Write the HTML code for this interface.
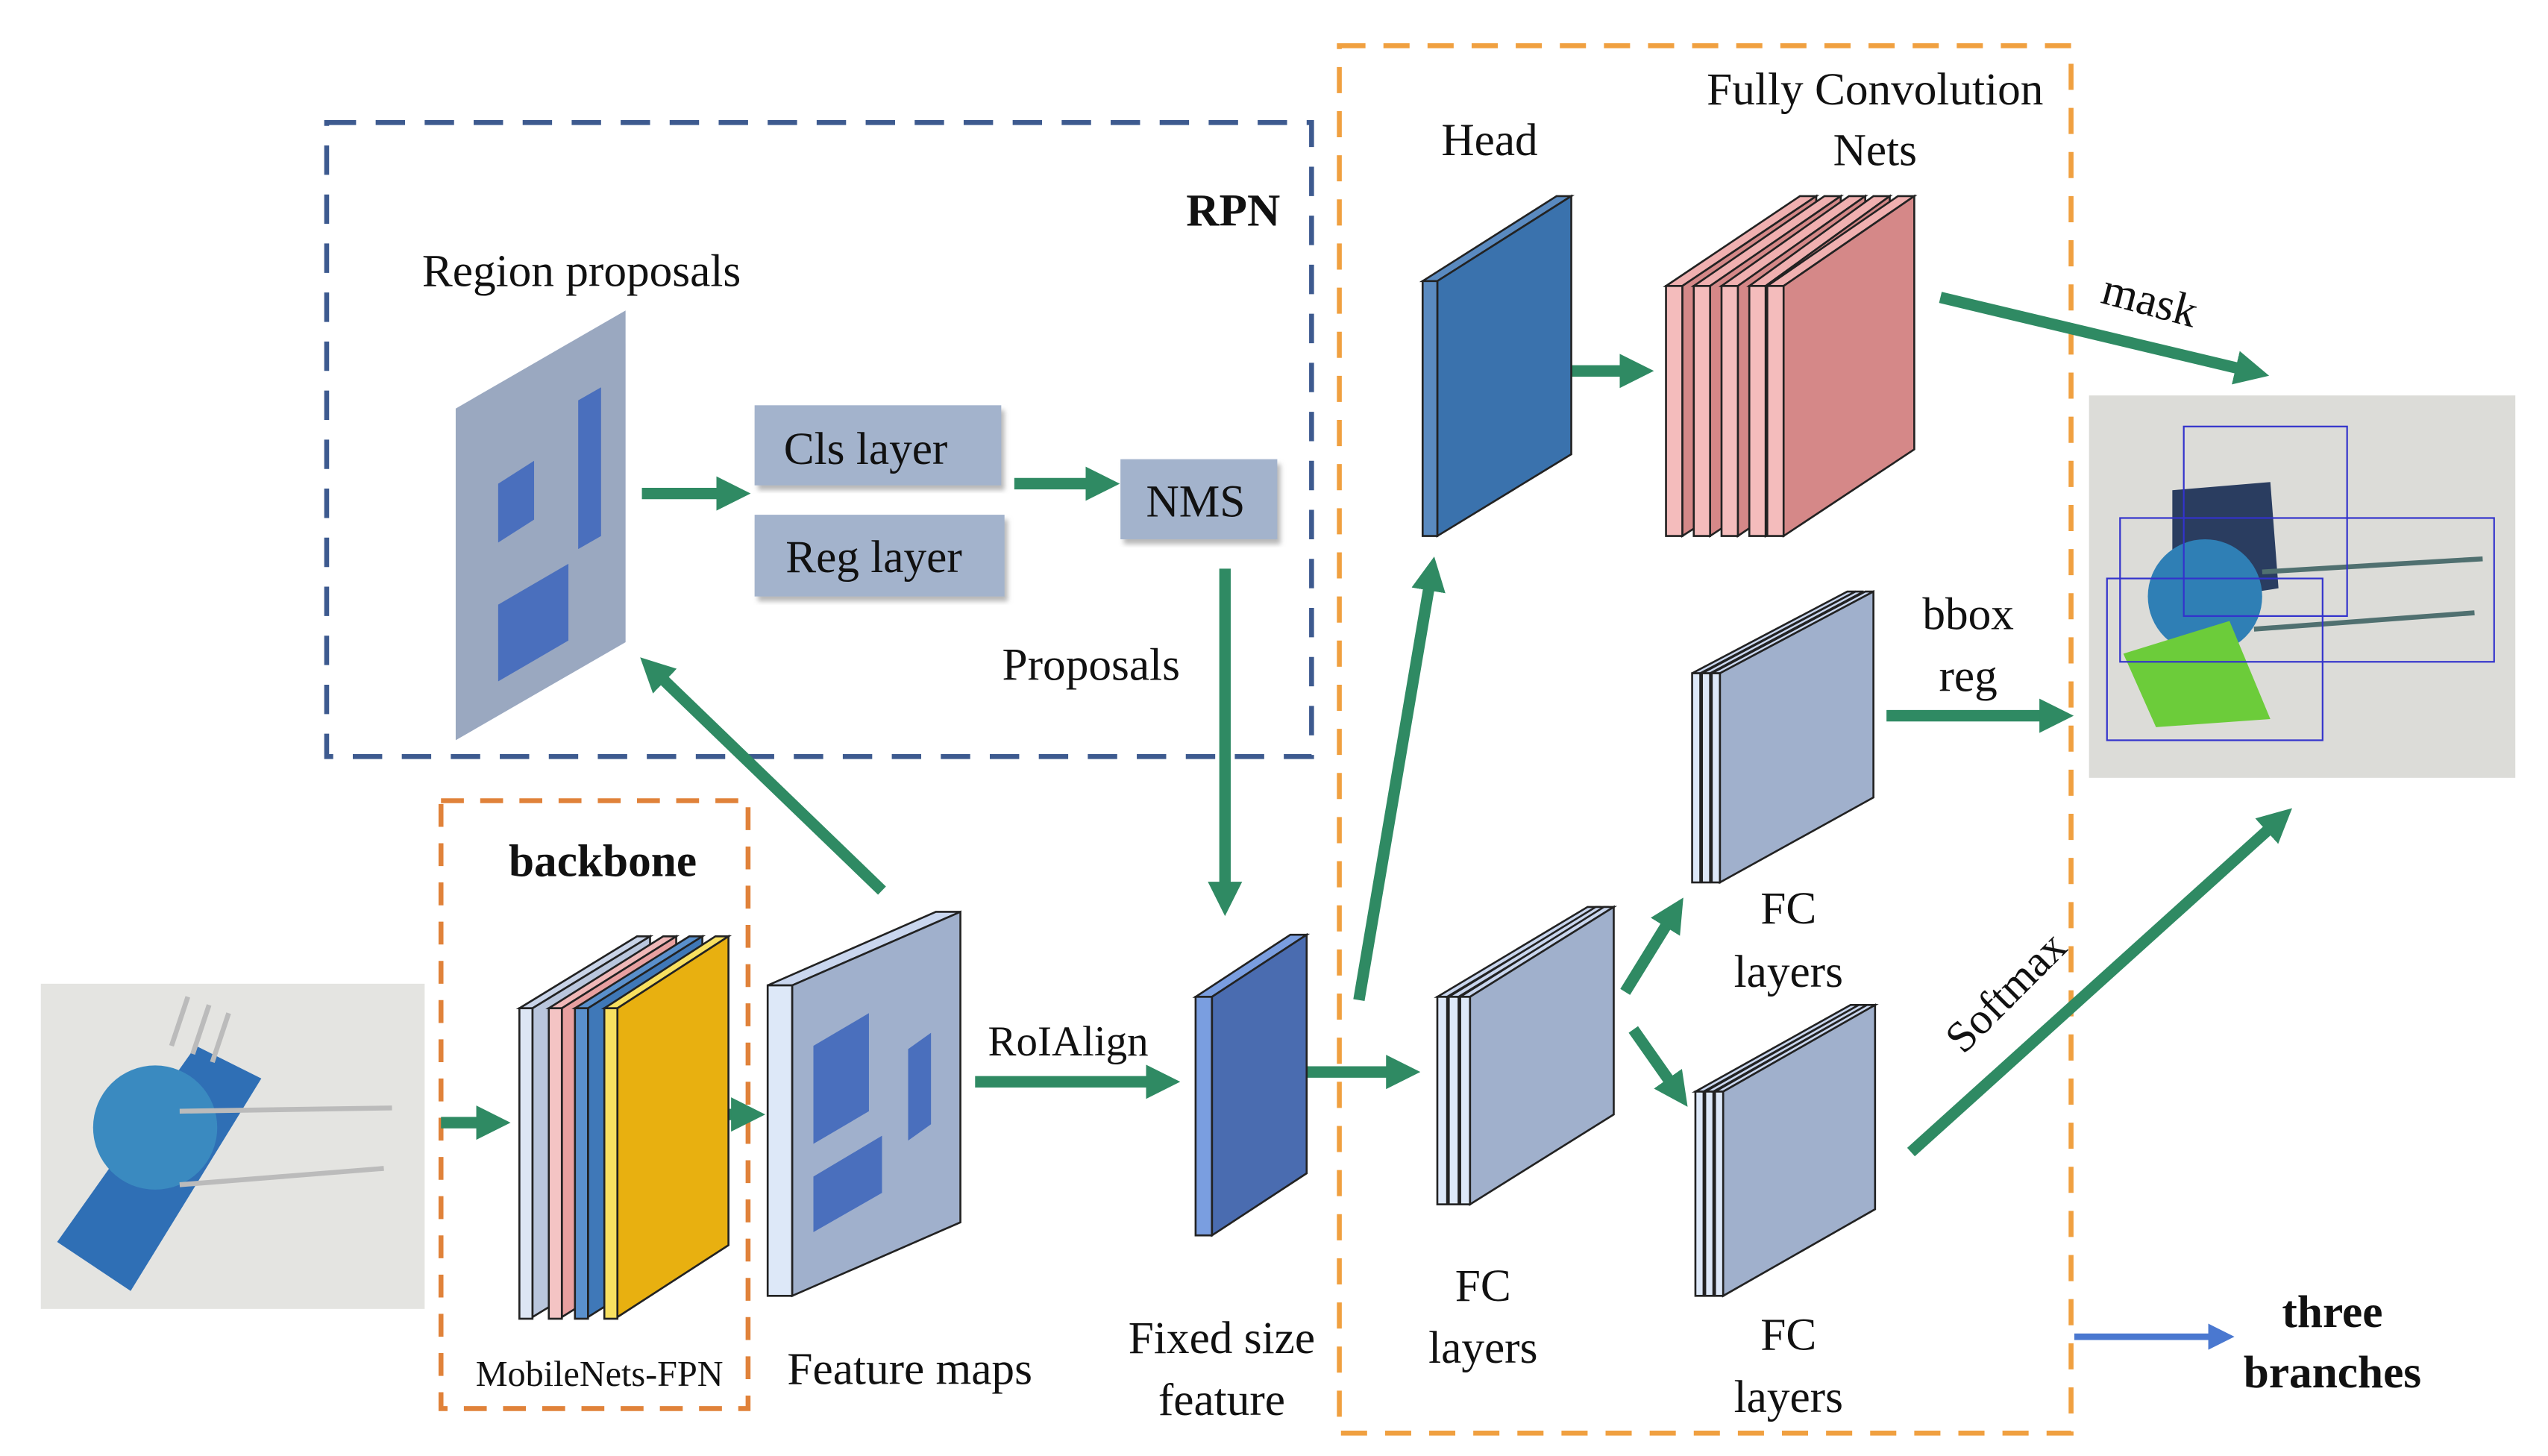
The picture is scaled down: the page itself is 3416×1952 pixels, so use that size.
<!DOCTYPE html>
<html><head><meta charset="utf-8"><style>html,body{margin:0;padding:0;background:#fff}svg{display:block}text{font-family:"Liberation Serif",serif;fill:#111}</style></head>
<body>
<svg width="3416" height="1952" viewBox="0 0 1560 891" preserveAspectRatio="none" xmlns="http://www.w3.org/2000/svg">
<defs>
<marker id="g" markerWidth="3" markerHeight="3" refX="1.2" refY="1.5" orient="auto" markerUnits="strokeWidth"><path d="M0,0 L3,1.5 L0,3 z" fill="#2f8a63"/></marker>
<marker id="b" markerWidth="4" markerHeight="4" refX="1.5" refY="2" orient="auto" markerUnits="strokeWidth"><path d="M0,0 L4,2 L0,4 z" fill="#4a78d0"/></marker>
<filter id="sh"><feDropShadow dx="2" dy="3" stdDeviation="1.5" flood-color="#888" flood-opacity="0.6"/></filter>
</defs>
<rect width="1560" height="891" fill="#fff"/>
<!-- boxes -->
<rect x="200" y="75" width="603" height="388" fill="none" stroke="#3d5a8f" stroke-width="3" stroke-dasharray="18,12"/>
<rect x="270" y="490" width="188" height="372" fill="none" stroke="#e0823a" stroke-width="3" stroke-dasharray="14,10"/>
<rect x="820" y="28" width="448" height="849" fill="none" stroke="#f0a040" stroke-width="3" stroke-dasharray="16,11"/>
<text x="755" y="138" font-size="28" font-weight="bold" text-anchor="middle">RPN</text>
<text x="356" y="175" font-size="28" text-anchor="middle">Region proposals</text>
<!-- region proposals -->
<polygon points="279,250 383,190 383,393 279,453" fill="#9aa8c0"/>
<polygon points="305,296 327,282 327,318 305,332" fill="#4a6fbd"/>
<polygon points="354,245 368,237 368,328 354,336" fill="#4a6fbd"/>
<polygon points="305,370 348,345 348,392 305,417" fill="#4a6fbd"/>
<rect x="462" y="248" width="151" height="49" fill="#a3b3cc" filter="url(#sh)"/>
<rect x="462" y="315" width="153" height="50" fill="#a3b3cc" filter="url(#sh)"/>
<rect x="686" y="281" width="96" height="49" fill="#a3b3cc" filter="url(#sh)"/>
<text x="530" y="284" font-size="28" text-anchor="middle">Cls layer</text>
<text x="535" y="350" font-size="28" text-anchor="middle">Reg layer</text>
<text x="732" y="316" font-size="28" text-anchor="middle">NMS</text>
<text x="668" y="416" font-size="28" text-anchor="middle">Proposals</text>
<g stroke="#2f8a63" stroke-width="7" fill="none" marker-end="url(#g)">
<line x1="393" y1="302" x2="447" y2="302"/>
<line x1="621" y1="296" x2="673" y2="296"/>
<line x1="750" y1="348" x2="750" y2="548"/>
<line x1="540" y1="545" x2="401" y2="411"/>
<line x1="270" y1="687" x2="300" y2="687"/>
<line x1="412" y1="682" x2="456" y2="682"/>
<line x1="597" y1="662" x2="710" y2="662"/>
<line x1="787" y1="656" x2="857" y2="656"/>
<line x1="832" y1="612" x2="876" y2="353"/>
<line x1="930" y1="227" x2="1000" y2="227"/>
<line x1="1188" y1="182" x2="1377" y2="227"/>
<line x1="1155" y1="438" x2="1257" y2="438"/>
<line x1="995" y1="607" x2="1024" y2="560"/>
<line x1="1000" y1="630" x2="1026" y2="667"/>
<line x1="1170" y1="705" x2="1394" y2="503"/>
</g>
<line x1="1270" y1="818" x2="1358" y2="818" stroke="#4a78d0" stroke-width="4" marker-end="url(#b)"/>
<!-- input photo -->
<rect x="25" y="602" width="235" height="199" fill="#e4e4e1"/>
<g fill="#2f6fb5"><polygon points="35,760 120,640 160,660 80,790"/><circle cx="95" cy="690" r="38" fill="#3a8ac0"/></g>
<g stroke="#bbb" stroke-width="3"><line x1="110" y1="680" x2="240" y2="678"/><line x1="110" y1="725" x2="235" y2="715"/><line x1="105" y1="640" x2="115" y2="610"/><line x1="118" y1="645" x2="128" y2="615"/><line x1="130" y1="650" x2="140" y2="620"/></g>
<!-- backbone stack -->
<g stroke="#222" stroke-width="1.2">
<polygon points="318,617 326,617 398,573 390,573" fill="#c9d4e8"/><polygon points="326,617 398,573 398,762 326,806" fill="#b9c6dd"/><rect x="318" y="617" width="8" height="190" fill="#dde6f4"/>
<polygon points="336,617 344,617 414,573 406,573" fill="#f0b8b8"/><polygon points="344,617 414,573 414,762 344,806" fill="#e8a0a0"/><rect x="336" y="617" width="8" height="190" fill="#f4c4c4"/>
<polygon points="352,617 360,617 430,573 422,573" fill="#5a90cc"/><polygon points="360,617 430,573 430,762 360,806" fill="#3f78b8"/><rect x="352" y="617" width="8" height="190" fill="#5a90cc"/>
<polygon points="370,617 378,617 446,573 438,573" fill="#f8e060"/><polygon points="378,617 446,573 446,762 378,806" fill="#e8b010"/><rect x="370" y="617" width="8" height="190" fill="#f8e060"/>
</g>
<text x="367" y="848" font-size="22" text-anchor="middle">MobileNets-FPN</text>
<text x="369" y="536" font-size="28" font-weight="bold" text-anchor="middle">backbone</text>
<!-- feature maps -->
<g stroke="#222" stroke-width="1.2">
<polygon points="470,603 485,603 588,558 573,558" fill="#c9d6ee"/>
<polygon points="485,603 588,558 588,748 485,793" fill="#a0b0cc"/>
<rect x="470" y="603" width="15" height="190" fill="#dde8f8"/>
</g>
<polygon points="498,640 532,620 532,680 498,700" fill="#4a6fbd"/>
<polygon points="556,642 570,632 570,688 556,698" fill="#4a6fbd"/>
<polygon points="498,720 540,695 540,730 498,754" fill="#4a6fbd"/>
<text x="557" y="847" font-size="28" text-anchor="middle">Feature maps</text>
<text x="654" y="646" font-size="26" text-anchor="middle">RoIAlign</text>
<!-- fixed size -->
<g stroke="#222" stroke-width="1.2">
<polygon points="732,610 742,610 800,572 790,572" fill="#7a9ee0"/>
<polygon points="742,610 800,572 800,718 742,756" fill="#4a6cb0"/>
<rect x="732" y="610" width="10" height="146" fill="#7a9ee0"/>
</g>
<text x="748" y="828" font-size="28" text-anchor="middle">Fixed size</text>
<text x="748" y="866" font-size="28" text-anchor="middle">feature</text>
<!-- head -->
<g stroke="#222" stroke-width="1.2">
<polygon points="871,172 880,172 962,120 953,120" fill="#5a8ac0"/>
<polygon points="880,172 962,120 962,278 880,328" fill="#3a72ad"/>
<rect x="871" y="172" width="9" height="156" fill="#5a8ac0"/>
</g>
<text x="912" y="95" font-size="28" text-anchor="middle">Head</text>
<!-- FCN pink -->
<g stroke="#222" stroke-width="1.2">
<polygon points="1020,175 1030,175 1112,120 1102,120" fill="#f0b0b0"/><polygon points="1030,175 1112,120 1112,275 1030,328" fill="#d58888"/><rect x="1020" y="175" width="10" height="153" fill="#f4bcbc"/>
<polygon points="1037,175 1047,175 1127,120 1117,120" fill="#f0b0b0"/><polygon points="1047,175 1127,120 1127,275 1047,328" fill="#d58888"/><rect x="1037" y="175" width="10" height="153" fill="#f4bcbc"/>
<polygon points="1054,175 1064,175 1142,120 1132,120" fill="#f0b0b0"/><polygon points="1064,175 1142,120 1142,275 1064,328" fill="#d58888"/><rect x="1054" y="175" width="10" height="153" fill="#f4bcbc"/>
<polygon points="1071,175 1081,175 1157,120 1147,120" fill="#f0b0b0"/><polygon points="1081,175 1157,120 1157,275 1081,328" fill="#d58888"/><rect x="1071" y="175" width="10" height="153" fill="#f4bcbc"/>
<polygon points="1082,175 1092,175 1172,120 1162,120" fill="#f0b0b0"/><polygon points="1092,175 1172,120 1172,275 1092,328" fill="#d58888"/><rect x="1082" y="175" width="10" height="153" fill="#f4bcbc"/>
</g>
<text x="1148" y="64" font-size="28" text-anchor="middle">Fully Convolution</text>
<text x="1148" y="101" font-size="28" text-anchor="middle">Nets</text>
<text x="1316" y="193" font-size="28" text-anchor="middle" transform="rotate(15 1316 185)">mask</text>
<!-- output photo -->
<rect x="1279" y="242" width="261" height="234" fill="#dcdcd8"/>
<polygon points="1330,300 1390,295 1395,360 1330,370" fill="#2a3d60"/>
<circle cx="1350" cy="365" r="35" fill="#2f7fb5"/>
<polygon points="1300,400 1365,380 1390,440 1320,445" fill="#6ccc3a"/>
<g stroke="#507070" stroke-width="3"><line x1="1385" y1="350" x2="1520" y2="342"/><line x1="1380" y1="385" x2="1515" y2="375"/></g>
<g fill="none" stroke="#3333cc" stroke-width="1"><rect x="1337" y="261" width="100" height="116"/><rect x="1298" y="317" width="229" height="88"/><rect x="1290" y="354" width="132" height="99"/></g>
<!-- FC upper -->
<g stroke="#222" stroke-width="1.2">
<polygon points="1036,412 1041,412 1136,362 1131,362" fill="#c9d6ee"/><rect x="1036" y="412" width="5" height="128" fill="#dde8f8"/>
<polygon points="1042,412 1047,412 1141,362 1136,362" fill="#c9d6ee"/><rect x="1042" y="412" width="5" height="128" fill="#dde8f8"/>
<polygon points="1048,412 1053,412 1147,362 1142,362" fill="#c9d6ee"/><polygon points="1053,412 1147,362 1147,488 1053,540" fill="#a0b0cc"/><rect x="1048" y="412" width="5" height="128" fill="#dde8f8"/>
</g>
<text x="1205" y="385" font-size="28" text-anchor="middle">bbox</text>
<text x="1205" y="423" font-size="28" text-anchor="middle">reg</text>
<text x="1095" y="565" font-size="28" text-anchor="middle">FC</text>
<text x="1095" y="604" font-size="28" text-anchor="middle">layers</text>
<!-- FC middle -->
<g stroke="#222" stroke-width="1.2">
<polygon points="880,610 886,610 978,555 972,555" fill="#c9d6ee"/><rect x="880" y="610" width="6" height="127" fill="#dde8f8"/>
<polygon points="887,610 893,610 983,555 977,555" fill="#c9d6ee"/><rect x="887" y="610" width="6" height="127" fill="#dde8f8"/>
<polygon points="894,610 900,610 988,555 982,555" fill="#c9d6ee"/><polygon points="900,610 988,555 988,682 900,737" fill="#a0b0cc"/><rect x="894" y="610" width="6" height="127" fill="#dde8f8"/>
</g>
<text x="908" y="796" font-size="28" text-anchor="middle">FC</text>
<text x="908" y="834" font-size="28" text-anchor="middle">layers</text>
<!-- FC lower -->
<g stroke="#222" stroke-width="1.2">
<polygon points="1038,668 1043,668 1138,615 1133,615" fill="#c9d6ee"/><rect x="1038" y="668" width="5" height="125" fill="#dde8f8"/>
<polygon points="1044,668 1049,668 1143,615 1138,615" fill="#c9d6ee"/><rect x="1044" y="668" width="5" height="125" fill="#dde8f8"/>
<polygon points="1050,668 1055,668 1148,615 1143,615" fill="#c9d6ee"/><polygon points="1055,668 1148,615 1148,740 1055,793" fill="#a0b0cc"/><rect x="1050" y="668" width="5" height="125" fill="#dde8f8"/>
</g>
<text x="1095" y="826" font-size="28" text-anchor="middle">FC</text>
<text x="1095" y="864" font-size="28" text-anchor="middle">layers</text>
<text x="1228" y="616" font-size="27" text-anchor="middle" transform="rotate(-45 1228 607)">Softmax</text>
<text x="1428" y="812" font-size="28" font-weight="bold" text-anchor="middle">three</text>
<text x="1428" y="849" font-size="28" font-weight="bold" text-anchor="middle">branches</text>
</svg>
</body></html>
